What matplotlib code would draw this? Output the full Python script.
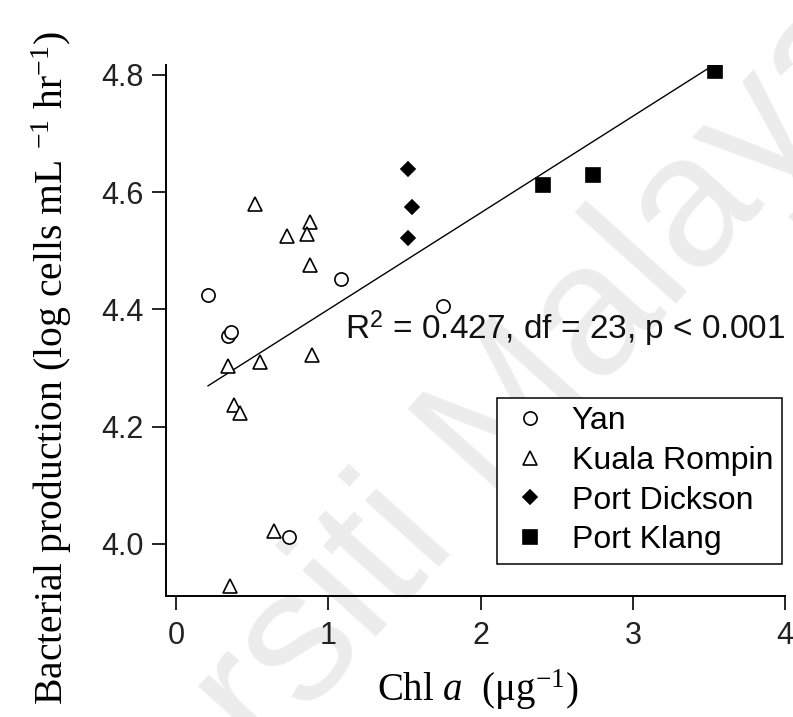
import numpy as np
import matplotlib
matplotlib.use("Agg")
import matplotlib.pyplot as plt

# Chlorophyll a (x) vs bacterial production (y, log cells mL-1 hr-1) by station
yan_x = [0.21, 0.34, 0.36, 1.08, 1.75, 0.74]
yan_y = [4.424, 4.355, 4.362, 4.452, 4.405, 4.011]

kr_x = [0.52, 0.88, 0.86, 0.73, 0.88, 0.34, 0.55, 0.89, 0.38, 0.42, 0.64, 0.355]
kr_y = [4.580, 4.549, 4.528, 4.525, 4.475, 4.303, 4.310, 4.323, 4.237, 4.223, 4.022, 3.928]

pd_x = [1.52, 1.55, 1.52]
pd_y = [4.640, 4.574, 4.521]

pk_x = [2.41, 2.74, 3.54]
pk_y = [4.612, 4.629, 4.807]

x_ticks = [0, 1, 2, 3, 4]
y_ticks = [4.0, 4.2, 4.4, 4.6, 4.8]
stats_label = r"R$^{\mathsf{2}}$ = 0.427, df = 23, p < 0.001"

plt.rcParams["mathtext.fontset"] = "custom"
plt.rcParams["mathtext.rm"] = "Liberation Serif"
plt.rcParams["mathtext.it"] = "Liberation Serif:italic"
plt.rcParams["mathtext.sf"] = "Liberation Sans"
plt.rcParams["font.family"] = ["Liberation Sans", "DejaVu Sans"]

fig = plt.figure(figsize=(7.93, 7.17), dpi=100)
ax = fig.add_axes([166 / 793, 121 / 717, 619.2 / 793, 531 / 717])
ax.set_facecolor("none")

# faint repository watermark behind the plot
fig.text(385 / 793, 1 - 555 / 717, "Universiti Malaya", rotation=48,
         fontsize=135, color="#ececec", ha="center", va="center",
         family="Liberation Sans", zorder=-1)

# least-squares line over the pooled data
all_x = np.array(yan_x + kr_x + pd_x + pk_x)
all_y = np.array(yan_y + kr_y + pd_y + pk_y)
slope, intercept = np.polyfit(all_x, all_y, 1)
xl = np.array([all_x.min(), all_x.max()])
ax.plot(xl, intercept + slope * xl, color="black", lw=1.0, zorder=2)

mk = dict(linestyle="none", markeredgecolor="black", markeredgewidth=1.2, zorder=3)
ax.plot(yan_x, yan_y, marker="o", markersize=9.5, markerfacecolor="white", label="Yan", **mk)
ax.plot(kr_x, kr_y, marker="^", markersize=10.5, markerfacecolor="white", label="Kuala Rompin", **mk)
ax.plot(pd_x, pd_y, marker="D", markersize=7.5, markerfacecolor="black", label="Port Dickson", **mk)
ax.plot(pk_x, pk_y, marker="s", markersize=9.5, markerfacecolor="black", label="Port Klang", **mk)

ax.text(1.11, 4.35, stats_label, fontsize=24, ha="left", va="baseline", color="#111111")

ax.set_xlim(-0.066, 4.0)
ax.set_ylim(3.911, 4.817)
ax.set_xticks(x_ticks)
ax.set_xticklabels([str(v) for v in x_ticks])
ax.set_yticks(y_ticks)
ax.set_yticklabels([f"{v:.1f}" for v in y_ticks])

for s in ("top", "right"):
    ax.spines[s].set_visible(False)
for s in ("left", "bottom"):
    ax.spines[s].set_linewidth(1.4)
ax.tick_params(direction="out", length=10, width=1.2, labelsize=22, labelcolor="#222222")
ax.tick_params(axis="y", pad=6)
ax.tick_params(axis="x", pad=8)

ax.set_ylabel(r"Bacterial production (log cells mL $^{-1}$ hr$^{-1}$)",
              family="Liberation Serif", fontsize=28.5)
ax.yaxis.set_label_coords((74 - 166) / 619.2, (596 - 368) / 531)
ax.set_xlabel(r"Chl $a$  (μg$^{-1}$)", family="Liberation Serif", fontsize=28)
ax.xaxis.set_label_coords((478 - 166) / 619.2, (596 - 667) / 531)

leg = ax.legend(loc="lower right", bbox_to_anchor=(0.995, 0.06), fontsize=23,
                frameon=True, fancybox=False, shadow=False, borderaxespad=0,
                handlelength=1.5, handletextpad=0.55, labelspacing=0.3, borderpad=0.28)
leg.get_frame().set_edgecolor("black")
leg.get_frame().set_linewidth(1.1)
leg.get_frame().set_alpha(1)

fig.savefig("out.png", dpi=100)
